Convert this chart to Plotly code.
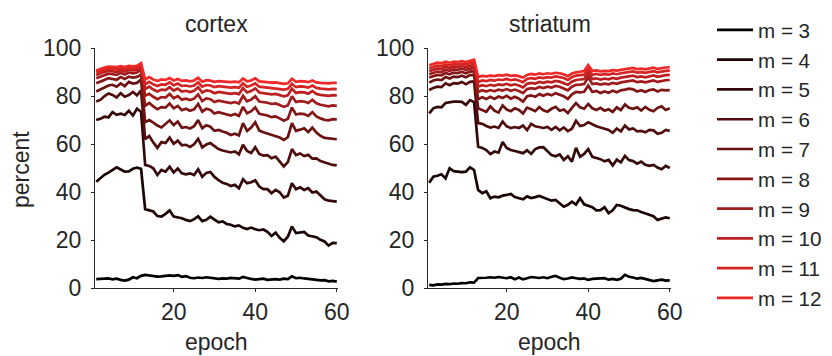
import plotly.graph_objects as go

W, H = 832, 356
epochs = list(range(1, 61))
m_values = [3, 4, 5, 6, 7, 8, 9, 10, 11, 12]
line_colors = ["#000000", "#1b0404", "#350909", "#500d0d", "#6b1212",
               "#851616", "#a01b1b", "#bb1f1f", "#d52424", "#f02828"]
panel_titles = ["cortex", "striatum"]
y_ticks = [0, 20, 40, 60, 80, 100]
x_ticks = [20, 40, 60]

cortex_m3 = [3.8,4.0,3.9,4.1,3.7,4.0,3.5,3.2,3.6,4.6,4.2,5.2,
             5.6,5.3,5.1,4.9,5.0,5.3,5.4,5.2,5.5,4.8,5.1,4.4,
             4.2,4.5,4.3,4.6,4.4,4.3,3.9,4.1,4.0,4.3,4.2,4.0,
             4.7,4.2,3.9,3.6,3.9,4.0,3.5,3.7,3.8,3.6,4.0,3.8,
             5.0,4.2,4.4,4.1,3.8,3.6,3.5,3.3,3.4,2.9,3.1,2.8]
cortex_m4 = [44.4,46.0,47.3,48.2,49.3,50.4,49.5,48.6,48.7,49.8,50.3,49.8,
             33.0,32.4,32.0,30.1,29.9,31.0,32.4,29.9,29.6,29.2,28.5,28.0,
             28.8,30.0,28.0,28.5,29.8,28.6,27.5,27.9,26.8,26.5,25.8,26.2,
             25.2,24.7,25.3,24.6,24.2,24.5,23.5,21.8,23.2,21.0,19.6,21.5,
             25.8,23.0,23.3,23.5,22.0,21.6,21.3,20.2,19.5,17.8,18.9,18.8]
cortex_m5 = [70.1,70.6,71.5,71.2,73.4,72.3,72.8,72.2,74.0,72.0,74.8,73.5,
             51.4,51.0,50.0,47.2,49.3,48.6,50.7,48.3,49.9,47.9,47.5,47.9,
             47.2,49.6,46.5,48.1,48.5,46.4,45.1,44.0,43.5,42.6,43.1,41.7,
             45.4,43.8,44.2,45.0,42.4,41.3,41.3,39.6,41.0,40.0,37.8,38.6,
             43.8,41.3,42.1,41.0,41.7,39.9,40.3,38.5,37.1,36.5,36.4,36.1]
cortex_m6 = [77.8,78.5,80.0,81.2,80.6,79.5,81.3,79.8,80.5,81.8,80.4,82.5,
             62.1,63.5,60.8,58.5,60.9,60.5,62.8,60.2,61.5,59.6,59.8,58.9,
             60.0,62.3,58.7,59.9,60.5,59.3,58.0,57.4,56.9,56.6,57.0,55.8,
             59.8,57.2,56.4,58.8,56.0,55.3,55.5,54.2,54.9,52.8,50.8,52.6,
             58.0,55.5,56.2,55.1,55.6,54.0,54.1,53.0,52.5,51.7,51.4,51.2]
cortex_m7 = [82.0,82.8,83.4,84.5,84.8,84.0,85.4,84.2,86.0,85.3,85.6,87.0,
             69.2,70.1,69.0,67.8,67.0,68.4,70.0,68.0,69.5,66.9,67.2,66.6,
             67.5,70.1,66.7,67.9,67.3,65.6,66.0,65.3,64.8,63.9,64.4,63.7,
             68.8,65.6,67.0,69.2,65.7,65.0,64.5,63.9,63.5,62.8,61.8,63.0,
             68.8,65.6,66.1,66.7,65.1,67.0,64.9,63.5,62.7,62.5,62.3,62.1]
cortex_m8 = [85.4,86.0,86.8,87.6,87.3,86.9,88.0,87.2,88.2,87.8,88.1,89.0,
             76.0,77.2,75.8,74.6,75.5,75.3,77.0,75.0,76.0,74.2,74.8,74.0,
             74.6,76.8,73.6,74.8,74.3,72.8,73.4,72.9,72.5,72.0,72.6,71.8,
             75.6,72.9,73.8,75.4,72.7,72.5,72.0,71.3,71.6,70.8,69.8,70.6,
             75.3,72.4,72.8,72.6,71.8,73.4,71.6,70.8,70.2,70.0,70.5,70.4]
cortex_m9 = [87.5,88.2,88.9,89.4,89.2,88.9,89.8,89.1,89.9,89.6,89.9,91.0,
             80.2,81.0,79.8,78.8,79.7,79.5,81.0,79.2,80.1,78.6,79.0,78.4,
             79.0,80.8,78.0,79.1,78.8,77.6,78.2,77.8,77.5,77.2,77.6,77.0,
             80.2,77.9,78.6,80.0,77.8,77.6,77.3,76.8,77.0,76.4,75.6,76.2,
             80.0,77.6,78.0,77.8,77.2,78.6,77.1,76.5,76.0,75.8,76.2,76.0]
cortex_m10 = [88.9,89.6,90.2,90.6,90.4,90.2,90.9,90.3,91.0,90.8,91.0,92.0,
              83.0,84.0,82.8,82.0,82.8,82.6,83.8,82.4,83.2,82.0,82.3,81.8,
              82.3,83.8,81.6,82.5,82.2,81.3,81.8,81.5,81.2,81.0,81.3,80.9,
              83.4,81.6,82.2,83.3,81.6,81.4,81.2,80.8,81.0,80.6,80.0,80.4,
              83.2,81.4,81.7,81.6,81.1,82.2,81.0,80.6,80.3,80.2,80.5,80.4]
cortex_m11 = [89.9,90.6,91.1,91.4,91.3,91.2,91.7,91.2,91.8,91.6,91.8,92.8,
              85.0,86.0,85.0,84.3,85.0,84.8,85.8,84.6,85.3,84.3,84.5,84.1,
              84.5,85.8,84.0,84.7,84.5,83.8,84.2,83.9,83.7,83.6,83.8,83.5,
              85.4,84.0,84.5,85.4,84.0,83.8,83.7,83.4,83.5,83.2,82.8,83.1,
              85.2,83.8,84.1,84.0,83.6,84.5,83.5,83.2,83.0,82.9,83.1,83.0]
cortex_m12 = [90.7,91.5,92.0,92.4,92.3,92.2,92.6,92.2,92.7,92.5,92.7,93.8,
              87.0,88.0,87.0,86.4,87.0,86.8,87.6,86.6,87.2,86.4,86.6,86.2,
              86.6,87.7,86.1,86.7,86.5,86.0,86.3,86.1,86.0,85.9,86.1,85.8,
              87.4,86.2,86.6,87.5,86.2,86.0,85.9,85.7,85.8,85.5,85.2,85.4,
              87.3,86.0,86.3,86.2,85.9,86.6,85.8,85.6,85.4,85.4,85.6,85.6]

striatum_m3 = [1.4,1.2,1.6,1.5,1.8,1.7,2.0,1.9,2.2,2.1,2.5,2.4,
               4.3,4.2,4.4,4.6,4.4,4.7,4.5,4.2,4.6,3.8,4.5,3.7,
               4.2,4.7,4.5,4.3,4.6,4.2,4.8,5.2,4.4,3.8,4.1,4.5,
               4.2,3.9,4.1,3.5,3.9,4.0,3.8,4.2,3.6,3.9,3.5,4.0,
               5.6,4.8,4.5,4.0,4.3,3.8,3.2,3.0,3.3,3.6,3.2,3.3]
striatum_m4 = [44.0,46.5,46.9,47.5,45.8,50.0,48.8,48.6,48.4,48.6,50.4,49.3,
               41.0,39.6,40.4,37.5,38.2,37.9,38.6,38.9,39.3,38.0,37.6,37.1,
               38.3,37.6,38.0,38.5,37.8,37.0,36.5,36.8,35.5,34.0,34.8,36.1,
               34.9,37.5,35.0,34.3,33.8,32.5,32.6,33.8,31.3,32.5,34.7,34.4,
               33.6,33.0,32.6,32.5,31.8,31.3,30.6,30.0,28.5,28.9,29.5,29.2]
striatum_m5 = [72.9,75.0,75.6,75.4,77.2,77.6,77.8,77.8,77.7,76.4,78.4,77.6,
               59.0,58.5,57.6,55.9,57.0,56.5,61.0,58.5,57.6,57.2,56.8,56.3,
               57.5,56.0,58.0,58.7,58.8,57.0,55.5,55.0,55.8,53.5,55.0,52.8,
               58.5,54.8,56.0,58.0,54.8,54.3,53.8,52.9,53.5,51.2,53.6,52.5,
               55.2,53.4,53.0,51.9,52.8,51.5,51.0,51.4,50.3,49.6,51.0,50.1]
striatum_m6 = [82.6,83.5,84.0,83.8,85.4,84.6,85.5,85.3,86.0,85.0,86.0,86.2,
               68.8,68.5,67.6,67.0,67.4,66.8,69.5,67.5,66.8,67.2,66.8,67.8,
               65.9,68.5,67.5,67.0,66.8,67.2,66.0,67.2,65.8,67.0,65.5,66.5,
               69.8,67.6,68.0,69.2,68.2,67.5,67.0,66.5,66.0,64.8,66.6,65.4,
               67.8,66.2,66.6,65.4,65.6,65.0,66.0,65.8,64.4,64.8,66.0,65.6]
striatum_m7 = [85.7,86.6,87.0,86.8,88.0,87.4,88.2,88.0,88.6,87.9,88.8,88.9,
               75.0,74.2,73.5,75.8,74.0,73.2,76.2,74.5,73.8,75.0,74.3,72.8,
               75.3,74.6,73.8,75.5,74.2,73.6,74.8,75.6,74.0,74.5,73.0,75.2,
               77.2,75.4,74.8,76.8,75.0,74.3,75.2,74.0,74.6,73.5,75.4,74.2,
               76.6,75.2,74.8,75.4,74.1,75.6,74.4,73.8,75.2,75.8,74.3,75.0]
striatum_m8 = [87.8,88.5,88.9,88.7,89.7,89.2,89.9,89.7,90.2,89.6,90.3,90.5,
               78.8,79.6,78.9,79.8,78.9,79.9,79.3,80.2,79.0,79.8,79.0,77.8,
               80.0,80.4,79.8,80.9,80.2,81.0,80.4,81.3,80.8,80.0,78.9,80.8,
               81.8,81.6,81.9,84.5,81.8,82.2,81.4,82.0,81.5,82.3,81.7,82.5,
               82.8,83.2,82.9,82.0,82.5,81.8,82.6,82.9,82.0,82.7,82.5,82.6]
striatum_m9 = [89.2,89.9,90.3,90.1,91.0,90.6,91.2,91.0,91.5,91.0,91.6,91.9,
               81.8,82.5,82.0,82.6,82.1,82.8,82.4,83.0,82.3,82.8,82.2,81.3,
               83.0,83.4,83.1,83.9,83.4,84.0,83.6,84.3,84.0,83.4,82.5,84.0,
               84.8,84.9,85.1,87.9,85.1,85.4,84.9,85.3,85.0,85.6,85.2,85.8,
               86.1,86.4,86.6,85.9,86.2,85.8,86.3,86.6,86.0,86.5,86.7,86.8]
striatum_m10 = [90.5,91.2,91.6,91.4,92.2,91.8,92.4,92.2,92.6,92.2,92.7,93.1,
                84.0,84.6,84.2,84.8,84.4,85.0,84.7,85.2,84.6,85.0,84.5,83.7,
                85.2,85.6,85.3,86.0,85.6,86.1,85.8,86.4,86.1,85.6,84.8,86.1,
                86.8,87.0,87.2,89.8,87.2,87.5,87.0,87.4,87.1,87.7,87.3,87.8,
                88.0,88.4,88.6,88.0,88.3,87.9,88.4,88.7,88.1,88.6,88.8,88.9]
striatum_m11 = [91.7,92.4,92.8,92.6,93.3,92.9,93.4,93.2,93.6,93.2,93.7,94.2,
                86.0,86.6,86.3,86.8,86.5,87.0,86.8,87.2,86.7,87.0,86.6,85.9,
                87.2,87.6,87.3,87.9,87.6,88.0,87.8,88.3,88.0,87.6,86.8,88.0,
                88.6,88.8,89.0,91.5,89.0,89.3,88.9,89.2,89.0,89.5,89.2,89.6,
                89.8,90.2,90.4,89.9,90.1,89.8,90.2,90.5,90.0,90.4,90.6,90.7]
striatum_m12 = [92.9,93.6,94.0,93.8,94.4,94.0,94.5,94.3,94.7,94.3,94.8,95.3,
                88.0,88.5,88.3,88.6,88.4,88.8,88.6,89.0,88.5,88.7,88.4,87.8,
                88.9,89.3,89.0,89.5,89.2,89.6,89.4,89.8,89.6,89.2,88.4,89.5,
                90.0,90.3,90.5,93.0,90.6,90.8,90.4,90.6,90.5,90.9,90.7,91.0,
                91.2,91.6,91.8,91.3,91.5,91.2,91.6,91.9,91.4,91.8,92.0,92.1]

cortex = [cortex_m3, cortex_m4, cortex_m5, cortex_m6, cortex_m7,
          cortex_m8, cortex_m9, cortex_m10, cortex_m11, cortex_m12]
striatum = [striatum_m3, striatum_m4, striatum_m5, striatum_m6, striatum_m7,
            striatum_m8, striatum_m9, striatum_m10, striatum_m11, striatum_m12]
for s in cortex + striatum:
    assert len(s) == 60, len(s)

FONT = "Liberation Sans, Arial, Helvetica, sans-serif"
TXT = "#262626"

fig = go.Figure()
for panel, (data, xa, ya) in enumerate([(cortex, "x", "y"), (striatum, "x2", "y2")]):
    for m, c, vals in zip(m_values, line_colors, data):
        fig.add_trace(go.Scatter(
            x=epochs, y=vals, mode="lines", xaxis=xa, yaxis=ya,
            name=f"m = {m}", legendgroup=f"m{m}", showlegend=(panel == 0),
            line=dict(color=c, width=2.7), hoverinfo="skip"))

def px_x(p):
    return p / W

def px_y(p):
    return 1 - p / H

ydom = [px_y(288.3), px_y(48.3)]
axis_common = dict(showgrid=False, zeroline=False, showline=True, linecolor=TXT,
                   linewidth=1, ticks="outside", ticklen=3, tickcolor=TXT,
                   automargin=False,
                   tickfont=dict(family=FONT, size=23, color=TXT))
fig.update_layout(
    template="none",
    width=W, height=H, margin=dict(l=0, r=0, t=0, b=0, pad=0, autoexpand=False),
    paper_bgcolor="white", plot_bgcolor="white",
    font=dict(family=FONT, size=23, color=TXT),
    xaxis=dict(domain=[px_x(95), px_x(338)], range=[0.7, 60.3], tickvals=x_ticks,
               anchor="y", ticklabelstandoff=0, **axis_common),
    yaxis=dict(domain=ydom, range=[0, 100], tickvals=y_ticks, anchor="x",
               ticklabelstandoff=5, **axis_common),
    xaxis2=dict(domain=[px_x(428), px_x(671)], range=[0.7, 60.3], tickvals=x_ticks,
                anchor="y2", ticklabelstandoff=0, **axis_common),
    yaxis2=dict(domain=ydom, range=[0, 100], tickvals=y_ticks, anchor="x2",
                ticklabelstandoff=5, **axis_common),
    legend=dict(x=px_x(712), y=px_y(10), xanchor="left", yanchor="top",
                itemwidth=36,
                font=dict(family=FONT, size=20.6, color=TXT),
                bgcolor="rgba(0,0,0,0)", borderwidth=0, tracegroupgap=0),
    showlegend=True,
)

centers = [(95 + 338) / 2, (428 + 671) / 2]
for cx, t in zip(centers, panel_titles):
    fig.add_annotation(text=t, x=px_x(cx), y=px_y(24), xref="paper", yref="paper",
                       showarrow=False, xanchor="center", yanchor="middle",
                       font=dict(family=FONT, size=23, color=TXT))
    fig.add_annotation(text="epoch", x=px_x(cx), y=px_y(342), xref="paper", yref="paper",
                       showarrow=False, xanchor="center", yanchor="middle",
                       font=dict(family=FONT, size=23, color=TXT))
fig.add_annotation(text="percent", x=px_x(21), y=px_y(170), xref="paper", yref="paper",
                   showarrow=False, xanchor="center", yanchor="middle", textangle=-90,
                   font=dict(family=FONT, size=23, color=TXT))

fig.write_html("out.html")
